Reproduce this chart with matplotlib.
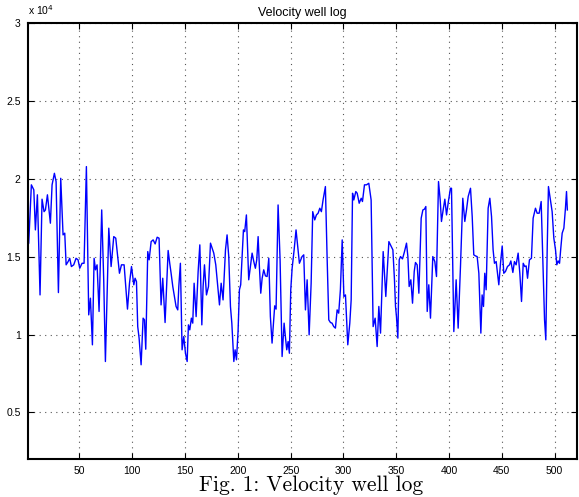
import matplotlib
matplotlib.use("Agg")
import matplotlib.pyplot as plt
from matplotlib.ticker import FuncFormatter

plt.rcParams['font.family'] = ['Liberation Sans', 'DejaVu Sans']

depth = [1, 2, 4.5, 6.8, 8.3, 10.2, 12.7, 14.6, 16.5, 17.8, 19.7, 22.5, 24.1, 26.3, 27.9, 30.1,
         32.3, 34.5, 36.1, 37.4, 39.3, 40.8, 42.4, 44.6, 46.8, 48.7, 50.3, 52.5, 54.4, 56.6,
         58.8, 60.4, 62.3, 63.9, 65.2, 66.7, 68.6, 71.1, 73.0, 74.6, 77.8, 80.0, 82.5, 84.4,
         87.9, 89.8, 92.3, 95.5, 97.4, 99.3, 101.5, 102.7, 104, 105.2, 106.5, 108.4, 110.3,
         111.6, 112.8, 114.7, 116, 117.9, 119.8, 121.7, 123.6, 125.4, 127.3, 128.9, 131.1,
         134, 135.5, 136.8, 138.4, 140, 141.5, 143.1, 144.1, 145.6, 147.2, 148.8, 150.4, 152,
         153.2, 154.5, 156, 157.3, 158.6, 160.5, 162.4, 164, 165.9, 167.1, 168.4, 170.3, 172.2,
         174.1, 175.6, 177.2, 179.1, 181, 182.6, 184.2, 186, 188.3, 189.8, 191.4, 193, 194.3,
         196.2, 197.4, 198.7, 200.2, 201.5, 202.7, 204, 205.3, 206.5, 208.1, 210.3, 211.9,
         213.5, 215.1, 216.6, 217.9, 219.2, 220.4, 221.7, 223, 224.5, 226.1, 227.7, 229.3,
         230.8, 232.4, 233.7, 234.9, 236.2, 238.1, 240, 241.9, 243.8, 245, 246.3, 247.6, 248.8,
         250.1, 251.4, 253.3, 255.1, 257, 258.3, 259.6, 260.8, 262.4, 264, 265.6, 267.5, 269.4,
         270.9, 272.8, 274.4, 276, 277.6, 279.1, 280.7, 282.9, 284.5, 286.1, 287.7, 289.2,
         290.8, 292.4, 294, 295.5, 297.1, 298.8, 300.4, 301.9, 304.1, 306, 307.3, 308.6, 309.8,
         311.7, 313, 314.9, 316.8, 318, 319.9, 321.8, 324, 326.2, 328.1, 330, 331.9, 333.5,
         335.1, 337.6, 340.1, 343, 344.5, 346.8, 348.3, 349.3, 350.2, 351.5, 352.8, 354, 355.9,
         357.8, 359.7, 361, 362.2, 363.8, 365.4, 367, 368.2, 369.8, 371.4, 373.6, 375.2, 376.7,
         378, 379.3, 380.8, 382.4, 384.6, 386.5, 388.1, 390, 391.6, 392.8, 394.4, 396, 397.6,
         399.2, 401.3, 402.3, 404.5, 406.7, 408.6, 410.8, 413, 414.9, 416.5, 418.1, 420.3,
         421.9, 423.4, 425, 426.6, 428.2, 430.1, 431.3, 432.6, 433.8, 435.1, 437, 438.6, 440.2,
         441.7, 443, 444.6, 446.2, 447.1, 448.7, 450.3, 451.8, 453.4, 455.3, 457.2, 458.5,
         460.4, 461.9, 463.5, 465.4, 467, 468.6, 470.2, 471.7, 473, 474.3, 476.1, 478, 479.6,
         481.8, 483.4, 485.3, 487.2, 488.8, 490.4, 491.6, 492.9, 494.1, 495.7, 497.6, 499.2,
         500.8, 502, 503.3, 504.6, 505.8, 507.1, 508.7, 510.2, 511.2, 512]

velocity = [15700, 15860, 19600, 19280, 16710, 18960, 12540, 18680, 17880, 17990, 18960, 17140,
            19600, 20340, 19810, 12690, 20020, 16390, 16500, 14470, 14680, 14890, 14360, 14470,
            14890, 14790, 14250, 14570, 14570, 20770, 11260, 12330, 9340, 14890, 14150, 14470,
            11480, 17990, 13510, 8270, 16820, 14360, 16280, 16180, 13930, 14470, 14470, 11630,
            13290, 14360, 13190, 13610, 13400, 10510, 9770, 8060, 11050, 10940, 9060, 15320,
            14790, 15960, 16070, 15810, 16240, 16180, 11900, 13610, 10770, 15390, 14570, 13930,
            13080, 12440, 11800, 11580, 13080, 14570, 9020, 9870, 8800, 8270, 10620, 10300,
            11050, 10730, 13290, 11150, 14040, 15750, 10620, 13080, 14470, 12540, 13080, 15860,
            15540, 15220, 14470, 13080, 11900, 13290, 12220, 15430, 16390, 15000, 11800, 10730,
            8270, 9020, 8380, 10190, 12870, 13190, 15000, 16710, 16600, 17670, 13510, 14360,
            15220, 14680, 14250, 14790, 16280, 14360, 12650, 13610, 14150, 13760, 13720, 14890,
            11150, 9450, 10730, 11840, 11630, 18310, 14790, 8590, 10730, 9870, 9020, 9550, 8800,
            12870, 14250, 15430, 16710, 15430, 14570, 14790, 15000, 15110, 11580, 13510, 9980,
            13290, 17880, 17350, 17670, 17780, 18100, 17880, 18630, 19490, 15000, 10940, 10770,
            10730, 10510, 10410, 11580, 11370, 12870, 16070, 12440, 12540, 9340, 10730, 12220,
            19060, 18630, 19170, 19060, 18420, 18740, 18530, 19600, 19600, 19700, 18630, 10510,
            11050, 9230, 11800, 10090, 15320, 12440, 15960, 15750, 15430, 13510, 11800, 11150,
            9770, 14790, 15000, 14850, 15320, 15860, 15000, 13080, 13510, 12010, 14040, 14620,
            14470, 12650, 17460, 17990, 18040, 18210, 11480, 13190, 11050, 15000, 14680, 13720,
            19810, 18630, 17250, 17990, 18680, 17670, 18460, 19380, 19380, 10190, 13510, 10410,
            14360, 18740, 17250, 17990, 18850, 19380, 17570, 15110, 15040, 15000, 13930, 10090,
            12540, 11800, 13930, 12870, 18100, 18740, 17570, 15430, 14570, 14680, 13720, 13190,
            14570, 15680, 13930, 14040, 14360, 14470, 14720, 13980, 14680, 14470, 15220, 13930,
            12120, 14570, 14360, 14400, 13610, 14790, 14890, 17460, 18100, 17780, 17780, 18530,
            14790, 10940, 9660, 15430, 19490, 18740, 17880, 16180, 15430, 14470, 14720, 14570,
            15540, 16500, 16820, 18100, 19170, 17990]

xticks = [50, 100, 150, 200, 250, 300, 350, 400, 450, 500]
yticks = [5000, 10000, 15000, 20000, 25000, 30000]

fig = plt.figure(figsize=(5.79, 4.97), dpi=100)
ax = fig.add_axes([0.0478, 0.0759, 0.9485, 0.8785])
ax.plot(depth, velocity, color='#0000ff', linewidth=1.0)
ax.set_xlim(1, 521)
ax.set_ylim(2000, 30000)
ax.set_xticks(xticks)
ax.set_yticks(yticks)
ax.yaxis.set_major_formatter(FuncFormatter(lambda v, p: '%g' % (v / 1e4)))
ax.tick_params(direction='in', length=4, width=0.8, labelsize=7.5, top=True, right=True,
               colors='black', pad=5)
ax.grid(True, linestyle=(0, (1, 4)), color='#555555', linewidth=0.8)
for s in ax.spines.values():
    s.set_linewidth(1.5)
ax.set_title('Velocity well log', fontsize=9, pad=5)
ax.text(0.0, 1.012, r'x 10$^{4}$', transform=ax.transAxes, fontsize=7.5, ha='left', va='bottom')
fig.text(0.537, 0.012, 'Fig. 1: Velocity well log', ha='center', va='baseline',
         fontsize=15.5, family=['cmr10', 'DejaVu Serif'])
fig.savefig('out.png', dpi=100)
